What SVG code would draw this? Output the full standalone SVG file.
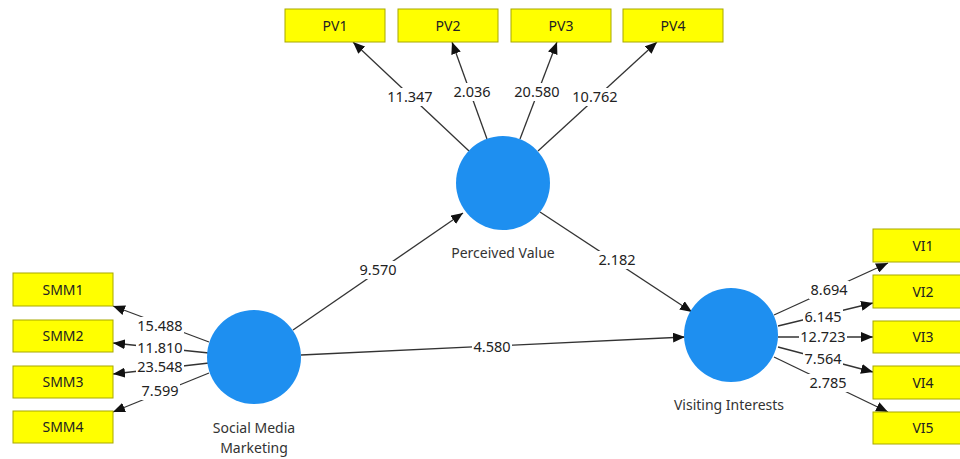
<svg xmlns="http://www.w3.org/2000/svg" width="960" height="459" viewBox="0 0 960 459">
<defs>
<marker id="ah" markerUnits="userSpaceOnUse" markerWidth="13" markerHeight="10" refX="12" refY="5" orient="auto">
<path d="M0,0 L12,5 L0,10 z" fill="#111"/>
</marker>
<style>
.box{fill:#ffff00;stroke:#a8a800;stroke-width:1}
.bt{font-family:"Noto Sans","Liberation Sans",sans-serif;font-size:14px;fill:#222;text-anchor:middle}
.lv{fill:#1e8ff0}
.lt{font-family:"Noto Sans","Liberation Sans",sans-serif;font-size:14px;fill:#333;text-anchor:middle}
.c{stroke:#333;stroke-width:1.3;fill:none;marker-end:url(#ah)}
.bg{fill:#fff}
.n{font-family:"Noto Sans","Liberation Sans",sans-serif;font-size:14.5px;fill:#222;text-anchor:middle}
</style>
</defs>
<rect width="960" height="459" fill="#fff"/>
<g id="connectors">
<line class="c" x1="469" y1="151" x2="353" y2="42"/>
<line class="c" x1="487" y1="139" x2="452" y2="42"/>
<line class="c" x1="520" y1="139" x2="557" y2="42"/>
<line class="c" x1="538" y1="151" x2="657" y2="42"/>
<line class="c" x1="209" y1="342" x2="113" y2="306"/>
<line class="c" x1="209" y1="353" x2="113" y2="343"/>
<line class="c" x1="209" y1="363" x2="113" y2="374"/>
<line class="c" x1="209" y1="373" x2="113" y2="412"/>
<line class="c" x1="774" y1="315" x2="888" y2="263"/>
<line class="c" x1="778" y1="326" x2="873" y2="303"/>
<line class="c" x1="778" y1="337" x2="873" y2="337"/>
<line class="c" x1="778" y1="347" x2="873" y2="372"/>
<line class="c" x1="774" y1="357" x2="888" y2="412"/>
<line class="c" x1="293" y1="330" x2="463" y2="213"/>
<line class="c" x1="540" y1="212" x2="692" y2="312"/>
<line class="c" x1="301" y1="355" x2="685" y2="337"/>
<rect class="bg" x="386" y="88" width="48" height="18"/><text class="n" x="410" y="102">11.347</text>
<rect class="bg" x="452" y="83" width="40" height="18"/><text class="n" x="472" y="97">2.036</text>
<rect class="bg" x="513" y="83" width="48" height="18"/><text class="n" x="537" y="97">20.580</text>
<rect class="bg" x="571" y="88" width="48" height="18"/><text class="n" x="595" y="102">10.762</text>
<rect class="bg" x="136" y="317" width="48" height="17"/><text class="n" x="160" y="331">15.488</text>
<rect class="bg" x="136" y="340" width="48" height="16"/><text class="n" x="160" y="353">11.810</text>
<rect class="bg" x="136" y="359" width="48" height="16"/><text class="n" x="160" y="372">23.548</text>
<rect class="bg" x="140" y="382" width="40" height="18"/><text class="n" x="160" y="396">7.599</text>
<rect class="bg" x="809" y="281" width="40" height="18"/><text class="n" x="829" y="295">8.694</text>
<rect class="bg" x="803" y="309" width="40" height="16"/><text class="n" x="823" y="322">6.145</text>
<rect class="bg" x="799" y="329" width="48" height="16"/><text class="n" x="823" y="342">12.723</text>
<rect class="bg" x="803" y="351" width="40" height="17"/><text class="n" x="823" y="364">7.564</text>
<rect class="bg" x="808" y="374" width="40" height="18"/><text class="n" x="828" y="388">2.785</text>
<rect class="bg" x="358" y="261" width="40" height="18"/><text class="n" x="378" y="275">9.570</text>
<rect class="bg" x="597" y="251" width="40" height="18"/><text class="n" x="617" y="265">2.182</text>
<rect class="bg" x="472" y="339" width="40" height="17"/><text class="n" x="492" y="352">4.580</text>
</g>
<g id="PV1"><rect class="box" x="285" y="9" width="100" height="33"/><text class="bt" x="335" y="31">PV1</text></g>
<g id="PV2"><rect class="box" x="398" y="9" width="100" height="33"/><text class="bt" x="448" y="31">PV2</text></g>
<g id="PV3"><rect class="box" x="511" y="9" width="100" height="33"/><text class="bt" x="561" y="31">PV3</text></g>
<g id="PV4"><rect class="box" x="623" y="9" width="100" height="33"/><text class="bt" x="673" y="31">PV4</text></g>
<g id="SMM1"><rect class="box" x="13" y="273" width="100" height="33"/><text class="bt" x="63" y="295">SMM1</text></g>
<g id="SMM2"><rect class="box" x="13" y="320" width="100" height="32"/><text class="bt" x="63" y="341">SMM2</text></g>
<g id="SMM3"><rect class="box" x="13" y="366" width="100" height="32"/><text class="bt" x="63" y="387">SMM3</text></g>
<g id="SMM4"><rect class="box" x="13" y="411" width="100" height="32"/><text class="bt" x="63" y="432">SMM4</text></g>
<g id="VI1"><rect class="box" x="873" y="229" width="100" height="33"/><text class="bt" x="923" y="251">VI1</text></g>
<g id="VI2"><rect class="box" x="873" y="275" width="100" height="33"/><text class="bt" x="923" y="297">VI2</text></g>
<g id="VI3"><rect class="box" x="873" y="321" width="100" height="32"/><text class="bt" x="923" y="342">VI3</text></g>
<g id="VI4"><rect class="box" x="873" y="366" width="100" height="33"/><text class="bt" x="923" y="388">VI4</text></g>
<g id="VI5"><rect class="box" x="873" y="412" width="100" height="32"/><text class="bt" x="923" y="433">VI5</text></g>
<g id="PerceivedValue"><circle class="lv" cx="503" cy="183" r="47"/><text class="lt" x="503" y="258">Perceived Value</text></g>
<g id="SocialMediaMarketing"><circle class="lv" cx="254" cy="357" r="47"/><text class="lt" x="254" y="433">Social Media</text><text class="lt" x="254" y="453">Marketing</text></g>
<g id="VisitingInterests"><circle class="lv" cx="731" cy="335" r="47"/><text class="lt" x="729" y="410">Visiting Interests</text></g>
</svg>
